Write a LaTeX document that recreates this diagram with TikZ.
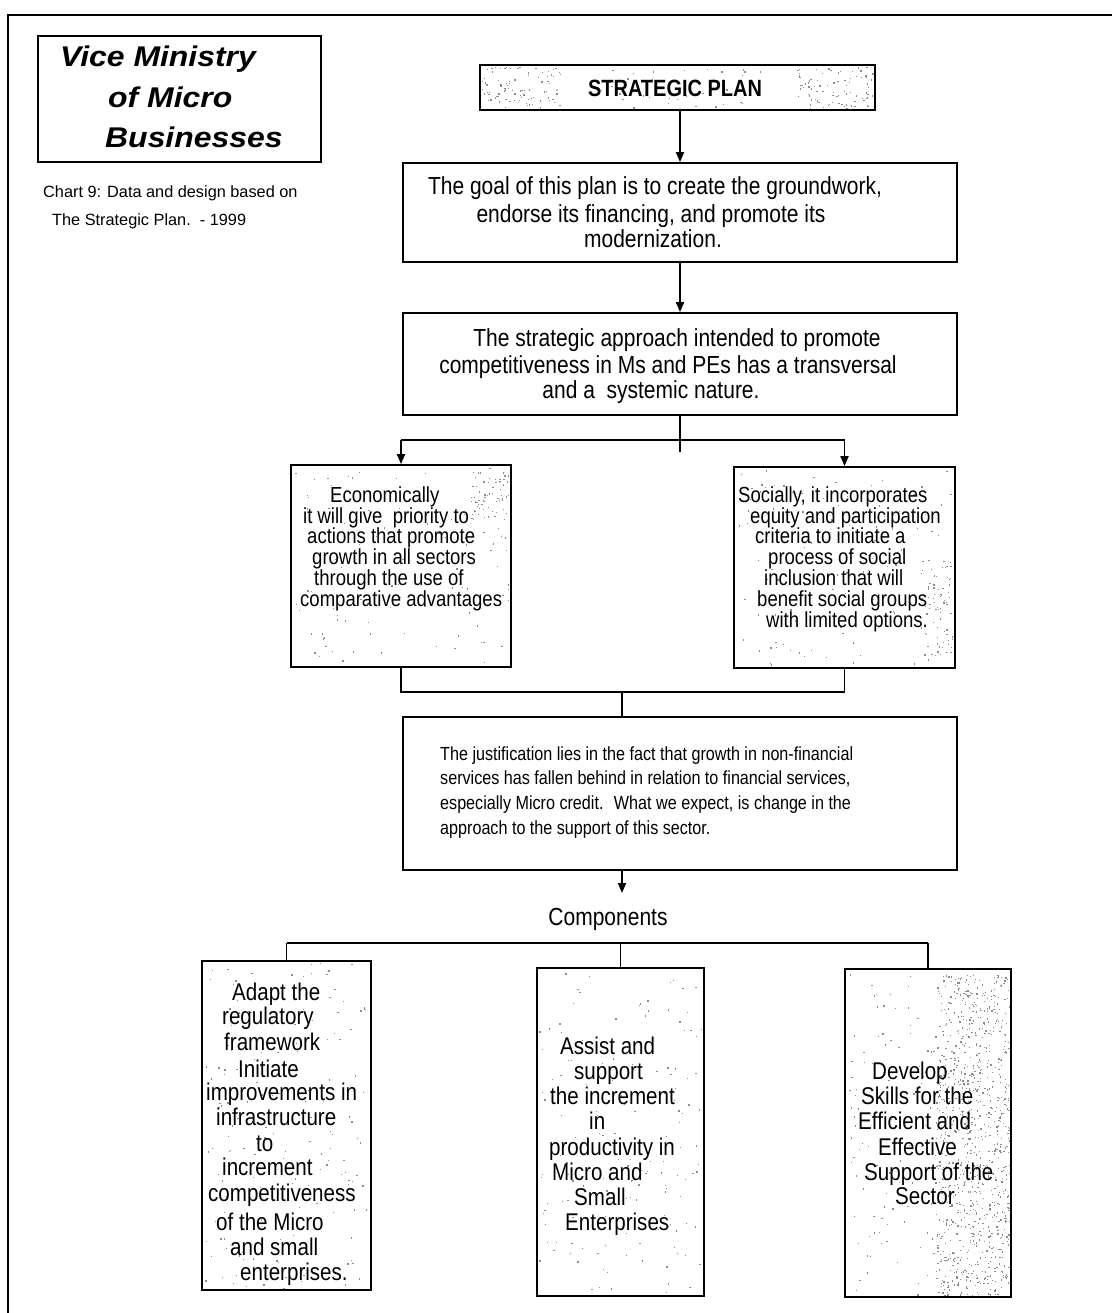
\documentclass[tikz,border=0pt]{standalone}
\usepackage{fontspec}
\setmainfont{Liberation Sans}[FakeStretch=0.85]
\newfontfamily\headfamily{Liberation Sans}[FakeStretch=1.12]
\newfontfamily\notefamily{Liberation Sans}
\usetikzlibrary{arrows.meta}

% light grey stipple inside a rectangle: x1 y1 x2 y2 count
\newcommand\speckle[5]{%
  \foreach \k in {1,...,#5}{%
    \pgfmathsetmacro\sx{#1+rnd*(#3-#1)}%
    \pgfmathsetmacro\sy{#2+rnd*(#4-#2)}%
    \fill[speck] (\sx,\sy) rectangle ++(1.3,1.3);
  }}

\tikzset{
  speck/.style={fill=black!45},
  box/.style={draw, line width=1.8pt, rectangle, inner sep=0pt},
  conn/.style={line width=1.8pt},
  arr/.style={conn, -{Triangle[length=10pt,width=8pt]}},
  txt/.style={inner sep=0pt, anchor=base west},
  ctxt/.style={inner sep=0pt, anchor=base},
  titlefont/.style={font=\headfamily\fontsize{28.5}{34}\selectfont\bfseries\itshape},
  capfont/.style={font=\notefamily\fontsize{16.3}{20}\selectfont},
  bigfont/.style={font=\fontsize{24.7}{28}\selectfont},
  justfont/.style={font=\fontsize{19}{23}\selectfont},
  sidefont/.style={font=\fontsize{21.8}{22}\selectfont},
  compfont/.style={font=\fontsize{24.2}{26}\selectfont},
}

\begin{document}
\begin{tikzpicture}[x=1pt,y=-1pt]
\useasboundingbox (0,0) rectangle (1112,1313);
\fill[white] (0,0) rectangle (1112,1313);

% page frame
\draw[line width=1.8pt] (8,1313) -- (8,15) -- (1112,15);

% stipple texture
\pgfmathsetseed{4242}
\speckle{482}{67}{560}{108}{90}
\speckle{795}{67}{873}{108}{90}
\speckle{600}{67}{760}{108}{40}
\speckle{293}{467}{509}{665}{110}
\speckle{470}{470}{509}{520}{60}
\speckle{736}{469}{953}{666}{110}
\speckle{920}{560}{953}{660}{80}
\speckle{204}{963}{369}{1288}{160}
\speckle{539}{970}{702}{1294}{150}
\speckle{847}{971}{1009}{1295}{160}
\speckle{935}{975}{1009}{1295}{900}

% boxes
\node[box, minimum width=283pt, minimum height=126pt] (title) at (179.5,99) {};
\node[box, minimum width=395pt, minimum height=45pt] (strat) at (677.5,87.5) {};
\node[box, minimum width=554pt, minimum height=99pt] (goal) at (680,212.5) {};
\node[box, minimum width=554pt, minimum height=102pt] (appr) at (680,364) {};
\node[box, minimum width=220pt, minimum height=202pt] (econ) at (401,566) {};
\node[box, minimum width=221pt, minimum height=201pt] (social) at (844.5,567.5) {};
\node[box, minimum width=554pt, minimum height=153pt] (just) at (680,793.5) {};
\node[box, minimum width=169pt, minimum height=329pt] (cleft) at (286.5,1125.5) {};
\node[box, minimum width=167pt, minimum height=328pt] (cmid) at (620.5,1132) {};
\node[box, minimum width=166pt, minimum height=328pt] (cright) at (928,1133) {};

% heading block
\node[txt, titlefont] (t1) at (60,67) {Vice Ministry};
\node[txt, titlefont] (t2) at (108,108) {of Micro};
\node[txt, titlefont] (t3) at (105,148) {Businesses};
\node[txt, capfont] (c1) at (43,198) {Chart 9: Data and design based on};
\node[txt, capfont] (c2) at (52,226) {The Strategic Plan.~~- 1999};

% plan chain
\node[ctxt, font=\fontsize{23.5}{26}\selectfont\bfseries] (stratlbl) at (675,97) {STRATEGIC PLAN};
\foreach \x/\y/\t [count=\i] in {655/195/{The goal of this plan is to create the groundwork,},
  651/223/{endorse its financing, and promote its},
  653/248/{modernization.}}
  \node[ctxt, bigfont] (goal-\i) at (\x,\y) {\t};
\foreach \x/\y/\t [count=\i] in {677/346/{The strategic approach intended to promote},
  668/373/{competitiveness in Ms and PEs has a transversal},
  651/398/{and a~ systemic nature.}}
  \node[ctxt, bigfont] (appr-\i) at (\x,\y) {\t};

% economic / social branches
\foreach \x/\y/\t [count=\i] in {330/502/{Economically},
  303/523/{it will give~ priority to},
  307/543/{actions that promote},
  312/564/{growth in all sectors},
  314/585/{through the use of},
  300/606/{comparative advantages}}
  \node[txt, sidefont] (econ-\i) at (\x,\y) {\t};
\foreach \x/\y/\t [count=\i] in {738/502/{Socially, it incorporates},
  750/523/{equity and participation},
  755/543/{criteria to initiate a},
  768/564/{process of social},
  764/585/{inclusion that will},
  757/606/{benefit social groups},
  766/627/{with limited options.}}
  \node[txt, sidefont] (social-\i) at (\x,\y) {\t};

% justification
\foreach \y/\t [count=\i] in {760/{The justification lies in the fact that growth in non-financial},
  784/{services has fallen behind in relation to financial services,},
  809/{especially Micro credit.~ What we expect, is change in the},
  834/{approach to the support of this sector.}}
  \node[txt, justfont] (just-\i) at (440,\y) {\t};

\node[ctxt, font=\fontsize{24.7}{26}\selectfont] (complbl) at (608,925) {Components};

% component boxes
\foreach \x/\y/\t [count=\i] in {232/1000/{Adapt the}, 222/1024/{regulatory},
  224/1050/{framework}, 238/1077/{Initiate}, 206/1100/{improvements in},
  216/1125/{infrastructure}, 256/1151/{to}, 222/1175/{increment},
  208/1201/{competitiveness}, 216/1230/{of the Micro}, 230/1255/{and small},
  240/1280/{enterprises.}}
  \node[txt, compfont] (cleft-\i) at (\x,\y) {\t};
\foreach \x/\y/\t [count=\i] in {560/1054/{Assist and}, 574/1079/{support},
  550/1104/{the increment}, 589/1129/{in}, 549/1155/{productivity in},
  552/1180/{Micro and}, 574/1205/{Small}, 565/1230/{Enterprises}}
  \node[txt, compfont] (cmid-\i) at (\x,\y) {\t};
\foreach \x/\y/\t [count=\i] in {872/1079/{Develop}, 861/1104/{Skills for the},
  858/1129/{Efficient and}, 878/1155/{Effective}, 864/1180/{Support of the},
  895/1204/{Sector}}
  \node[txt, compfont] (cright-\i) at (\x,\y) {\t};

% connectors
\coordinate (split) at (680,440);
\coordinate (splitend) at (680,452);
\coordinate (merge) at (622,692);
\coordinate (comptip) at (622,893);
\coordinate (cbar) at (620,943);

\draw[arr] (goal.north |- strat.south) -- (goal.north);
\draw[arr] (goal.south) -- (appr.north);
\draw[conn] (appr.south) -- (splitend);
\draw[conn] (econ.north |- split) -- (social.north |- split);
\draw[arr] (econ.north |- split) -- (econ.north);
\draw[arr] (social.north |- split) -- (social.north);
\draw[conn] (econ.south) -- (econ.south |- merge) -- (social.south |- merge) -- (social.south);
\draw[conn] (merge) -- (merge |- just.north);
\draw[arr] (merge |- just.south) -- (comptip);
\draw[conn] (cleft.north |- cbar) -- (cright.north |- cbar);
\draw[conn] (cleft.north |- cbar) -- (cleft.north);
\draw[conn] (cmid.north |- cbar) -- (cmid.north);
\draw[conn] (cright.north |- cbar) -- (cright.north);
\end{tikzpicture}
\end{document}
